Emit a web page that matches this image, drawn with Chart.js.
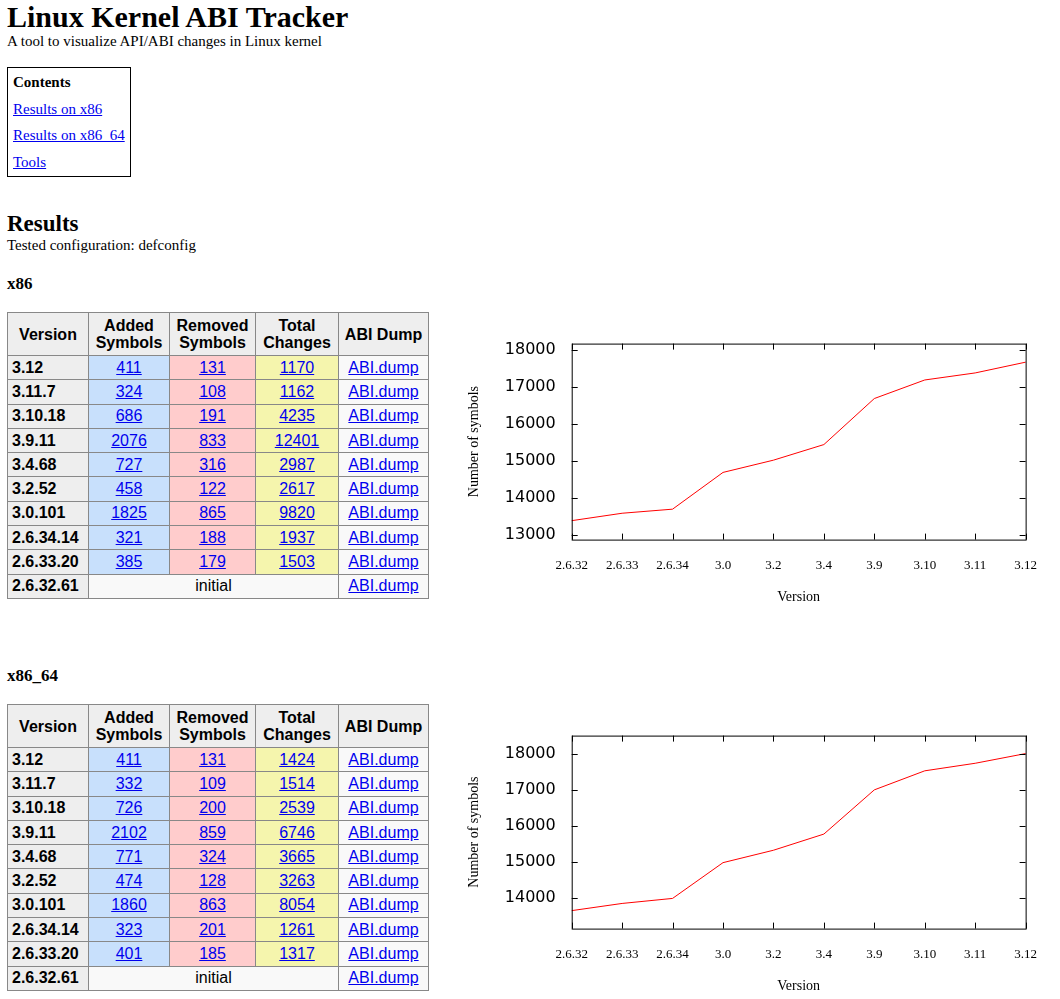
<!DOCTYPE html>
<html><head><meta charset="utf-8">
<script src="https://cdn.jsdelivr.net/npm/chart.js@4"></script>
<style>
body{margin:0;font-family:"Liberation Serif",serif;color:#000;background:#fff}
.a{position:absolute}
h1{margin:0;font-size:30px;font-weight:bold;line-height:32px}
a{color:#00e}
.box{border:1px solid #000;left:7px;top:67px;width:122px;height:108px;font-size:15px}
.box div{position:absolute;left:5px}
table{border-collapse:collapse;font-family:"Liberation Sans",Arial,sans-serif;font-size:16px;width:422px}
td,th{border:1px solid #888;text-align:center;padding:0;height:23.3px}
th{background:#eee;height:42px;line-height:17px}
td.v{background:#eee;text-align:left;font-weight:bold;padding-left:4px}
td.ad{background:#c8e0fc}td.rm{background:#ffcccc}td.tc{background:#f5f5ad}td.ab{background:#f9f9f9}
</style></head><body>
<div class="a" style="left:7px;top:1px"><h1>Linux Kernel ABI Tracker</h1></div>
<div class="a" style="left:7px;top:33px;font-size:15px">A tool to visualize API/ABI changes in Linux kernel</div>
<div class="a box">
<div style="top:6px;font-weight:bold">Contents</div>
<div style="top:33px"><a href="#">Results on x86</a></div>
<div style="top:59px"><a href="#">Results on x86_64</a></div>
<div style="top:86px"><a href="#">Tools</a></div>
</div>
<div class="a" style="left:7px;top:211px;font-size:23px;font-weight:bold">Results</div>
<div class="a" style="left:7px;top:237px;font-size:15px">Tested configuration: defconfig</div>
<div class="a" style="left:7px;top:274px;font-size:17px;font-weight:bold">x86</div>
<div class="a" id="t1" style="left:7px;top:312px"></div>
<div class="a" style="left:7px;top:666px;font-size:17px;font-weight:bold">x86_64</div>
<div class="a" id="t2" style="left:7px;top:704px"></div>
<div class="a" style="left:462px;top:326px;width:585px;height:284px"><canvas id="c1"></canvas></div>
<div class="a" style="left:462px;top:718px;width:585px;height:281px"><canvas id="c2"></canvas></div>
<script>
const versions = ["3.12","3.11.7","3.10.18","3.9.11","3.4.68","3.2.52","3.0.101","2.6.34.14","2.6.33.20","2.6.32.61"];
const x86Added = [411,324,686,2076,727,458,1825,321,385];
const x86Removed = [131,108,191,833,316,122,865,188,179];
const x86Total = [1170,1162,4235,12401,2987,2617,9820,1937,1503];
const x64Added = [411,332,726,2102,771,474,1860,323,401];
const x64Removed = [131,109,200,859,324,128,863,201,185];
const x64Total = [1424,1514,2539,6746,3665,3263,8054,1261,1317];

const chartLabels = ["2.6.32","2.6.33","2.6.34","3.0","3.2","3.4","3.9","3.10","3.11","3.12"];
const x86Symbols = [13390,13590,13700,14690,15020,15440,16680,17180,17370,17660];
const x64Symbols = [13640,13840,13980,14975,15320,15770,17000,17530,17740,18010];
const x86Ticks = [13000,14000,15000,16000,17000,18000];
const x64Ticks = [14000,15000,16000,17000,18000];

function buildTable(id, added, removed, total) {
  let h = '<table><tr><th style="width:80px">Version</th><th style="width:80px">Added<br>Symbols</th><th style="width:85px">Removed<br>Symbols</th><th style="width:82px">Total<br>Changes</th><th>ABI Dump</th></tr>';
  versions.forEach((v, i) => {
    h += '<tr><td class="v">' + v + '</td>';
    if (i < added.length) {
      h += '<td class="ad"><a href="#">' + added[i] + '</a></td><td class="rm"><a href="#">' + removed[i] +
        '</a></td><td class="tc"><a href="#">' + total[i] + '</a></td>';
    } else {
      h += '<td colspan="3" style="background:#f9f9f9">initial</td>';
    }
    h += '<td class="ab"><a href="#">ABI.dump</a></td></tr>';
  });
  document.getElementById(id).innerHTML = h + '</table>';
}
buildTable("t1", x86Added, x86Removed, x86Total);
buildTable("t2", x64Added, x64Removed, x64Total);

// gnuplot style: frame and inward ticks
const framePlugin = {
  id: "frame",
  afterDatasetsDraw(chart) {
    const { ctx, chartArea: a, scales } = chart;
    ctx.save();
    ctx.strokeStyle = "#000";
    ctx.lineWidth = 1;
    ctx.strokeRect(a.left + 0.5, a.top + 0.5, a.right - a.left, a.bottom - a.top);
    ctx.beginPath();
    scales.x.ticks.forEach((t, i) => {
      const x = Math.round(scales.x.getPixelForTick(i)) + 0.5;
      ctx.moveTo(x, a.bottom); ctx.lineTo(x, a.bottom - 6);
      ctx.moveTo(x, a.top); ctx.lineTo(x, a.top + 6);
    });
    scales.y.ticks.forEach((t, i) => {
      const y = Math.round(scales.y.getPixelForTick(i)) + 0.5;
      ctx.moveTo(a.left, y); ctx.lineTo(a.left + 6, y);
      ctx.moveTo(a.right, y); ctx.lineTo(a.right - 6, y);
    });
    ctx.stroke();
    ctx.restore();
  }
};

function makeChart(id, data, min, max, yTicks) {
  new Chart(document.getElementById(id), {
    type: "line",
    data: {
      labels: chartLabels,
      datasets: [{ data, borderColor: "#f00", borderWidth: 1, pointRadius: 0, fill: false, tension: 0 }]
    },
    options: {
      responsive: true,
      maintainAspectRatio: false,
      animation: false,
      layout: { padding: { right: 8, top: 6 } },
      plugins: { legend: { display: false }, tooltip: { enabled: false } },
      scales: {
        x: {
          offset: false,
          grid: { display: false },
          border: { display: false },
          ticks: { color: "#000", font: { family: "Liberation Serif", size: 13 }, maxRotation: 0, padding: 10 },
          title: { display: true, text: "Version", color: "#000", font: { family: "Liberation Serif", size: 14 }, padding: { top: 6 } }
        },
        y: {
          min, max,
          grid: { display: false },
          border: { display: false },
          afterBuildTicks(s) { s.ticks = yTicks.map(v => ({ value: v })); },
          ticks: { color: "#000", font: { family: "DejaVu Sans", size: 16 }, padding: 8, callback: v => String(v) },
          title: { display: true, text: "Number of symbols", color: "#000", font: { family: "Liberation Serif", size: 14 }, padding: { bottom: 14 } }
        }
      }
    },
    plugins: [framePlugin]
  });
}
makeChart("c1", x86Symbols, 12880, 18160, x86Ticks);
makeChart("c2", x64Symbols, 13140, 18510, x64Ticks);
</script>
</body></html>
